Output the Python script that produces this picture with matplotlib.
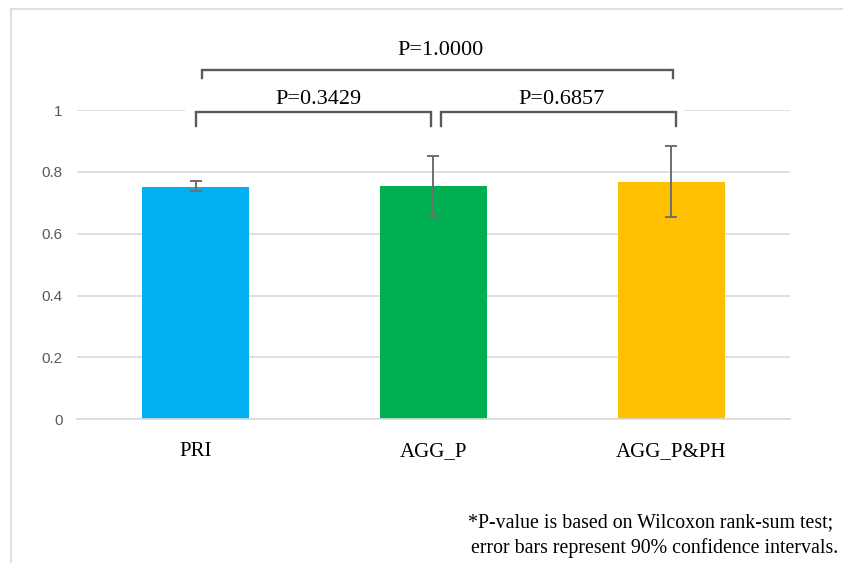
import matplotlib
matplotlib.use("Agg")
import matplotlib.pyplot as plt
from matplotlib.patches import Rectangle
from matplotlib.lines import Line2D

# data
groups = ["PRI", "AGG_P", "AGG_P&PH"]
means = [0.752, 0.755, 0.768]
ci_low = [0.739, 0.657, 0.653]
ci_high = [0.770, 0.851, 0.885]
bar_colors = ["#00B0F0", "#00B050", "#FFC000"]

# pairwise comparisons (group i, group j, p-value)
comparisons = [(0, 1, 0.3429), (1, 2, 0.6857), (0, 2, 1.0000)]

serif = "Liberation Serif"
sans = "Liberation Sans"

fig = plt.figure(figsize=(8.43, 5.63), dpi=100)
ax = fig.add_axes([0.091, 0.2552, 0.8462, 0.5494])

x = list(range(len(groups)))
err = [[m - lo for m, lo in zip(means, ci_low)],
       [hi - m for m, hi in zip(means, ci_high)]]
ax.bar(x, means, width=0.45, color=bar_colors, zorder=2)
ax.errorbar(x, means, yerr=err, fmt="none", ecolor="#6f6f6f",
            elinewidth=1.4, capsize=4, capthick=1.4, zorder=3)

ax.set_xlim(-0.5, 2.5)
ax.set_ylim(0, 1)
ax.set_yticks([0, 0.2, 0.4, 0.6, 0.8, 1])
ax.set_yticklabels(["0", "0.2", "0.4", "0.6", "0.8", "1"])
ax.set_xticks(x)
ax.set_xticklabels(groups, fontfamily=serif, fontsize=15)
ax.tick_params(axis="x", length=0, pad=16.5, colors="#000000")
ax.tick_params(axis="y", length=0, pad=10, labelsize=11, labelcolor="#595959")
for lbl in ax.get_yticklabels():
    lbl.set_fontfamily(sans)

ax.yaxis.grid(True, color="#d9d9d9", linewidth=1.2)
ax.set_axisbelow(True)
for s in ["top", "right", "left"]:
    ax.spines[s].set_visible(False)
ax.spines["bottom"].set_color("#d9d9d9")
ax.spines["bottom"].set_linewidth(1.2)

# white patch behind the significance brackets (covers the top gridline)
ax.add_patch(Rectangle((-0.045, 0.945), 2.10, 0.30, facecolor="white",
                       edgecolor="none", zorder=1, clip_on=False))

# significance brackets
bcol = "#5a5a5a"
for i, j, p in comparisons:
    if j - i == 1:
        left = i + (0.0 if i == 0 else 0.03)
        right = j - (0.01 if j == 1 else -0.02)
        ytop, ybot, ytxt = 0.9945, 0.948, 1.035
        txt_x = (i + j) / 2 + (0.015 if i == 0 else 0.04)
    else:
        left, right = i + 0.027, j + 0.006
        ytop, ybot, ytxt = 1.129, 1.102, 1.194
        txt_x = (i + j) / 2 + 0.028
    ax.plot([left, left, right, right], [ybot, ytop, ytop, ybot],
            color=bcol, linewidth=1.7, solid_joinstyle="miter",
            clip_on=False, zorder=4)
    ax.text(txt_x, ytxt, f"P={p:.4f}", ha="center", va="center",
            fontfamily=serif, fontsize=16, color="#000000", zorder=5)

# chart frame edges (left and top are visible in the crop)
fig.add_artist(Line2D([11 / 843, 11 / 843], [0, 1 - 9 / 563],
                      color="#d9d9d9", linewidth=1.2))
fig.add_artist(Line2D([11 / 843, 1], [1 - 9 / 563, 1 - 9 / 563],
                      color="#d9d9d9", linewidth=1.2))

# footnote
fig.text(833 / 843, 1 - 523 / 563,
         "*P-value is based on Wilcoxon rank-sum test;",
         ha="right", va="center", fontfamily=serif, fontsize=14.3)
fig.text(838 / 843, 1 - 548 / 563,
         "error bars represent 90% confidence intervals.",
         ha="right", va="center", fontfamily=serif, fontsize=14.3)

fig.savefig("out.png", dpi=100, facecolor="white")
